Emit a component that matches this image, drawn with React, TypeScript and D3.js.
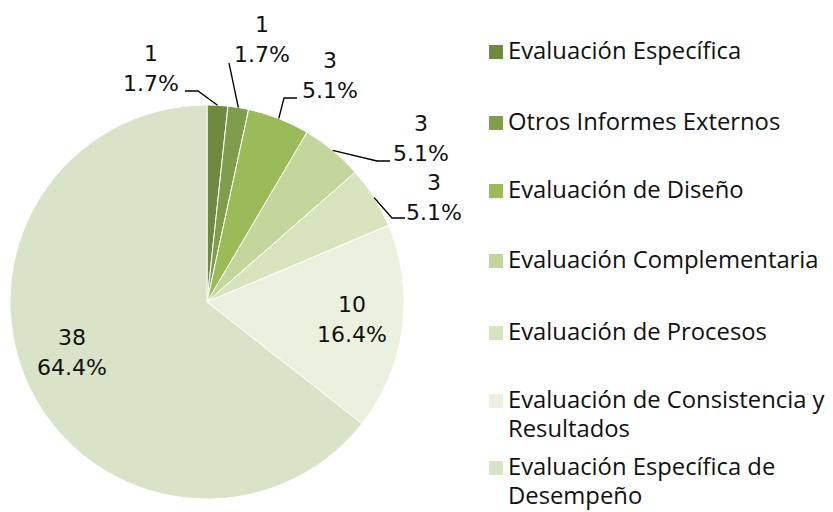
import React from "react";
import * as d3 from "d3";

const categories = [
  "Evaluación Específica",
  "Otros Informes Externos",
  "Evaluación de Diseño",
  "Evaluación Complementaria",
  "Evaluación de Procesos",
  "Evaluación de Consistencia y Resultados",
  "Evaluación Específica de Desempeño",
];
const values = [1, 1, 3, 3, 3, 10, 38];
const percentLabels = ["1.7%", "1.7%", "5.1%", "5.1%", "5.1%", "16.4%", "64.4%"];
const colors = ["#6f8a3e", "#7f9d4b", "#9bbb59", "#c3d69b", "#d7e4bd", "#ebf1de", "#d8e3c7"];

// legend text lines (wrapped as in the original)
const legendLines = [
  ["Evaluación Específica"],
  ["Otros Informes Externos"],
  ["Evaluación de Diseño"],
  ["Evaluación Complementaria"],
  ["Evaluación de Procesos"],
  ["Evaluación de Consistencia y", "Resultados"],
  ["Evaluación Específica de", "Desempeño"],
];
const legendBaselines = [59, 130, 198, 268, 340, 408, 475];

// label layout: text centre x, first baseline y, leader path elbow (null = inside)
const labelLayout: { x: number; y: number; elbow: [number, number][] | null }[] = [
  { x: 151, y: 61, elbow: [[198, 91], [185, 91]] },
  { x: 262, y: 32, elbow: [[229, 63]] },
  { x: 330, y: 68, elbow: [[284, 98], [297, 98]] },
  { x: 421, y: 131, elbow: [[377, 161], [390, 161]] },
  { x: 434, y: 190, elbow: [[392, 218], [405, 218]] },
  { x: 352, y: 312, elbow: null },
  { x: 72, y: 345, elbow: null },
];

export default function App() {
  const width = 833;
  const height = 512;
  const cx = 207;
  const cy = 302;
  const r = 197;

  const pie = d3
    .pie<number>()
    .sort(null)
    .value((d) => d)
    .startAngle(0)
    .endAngle(2 * Math.PI);
  const arcs = pie(values);
  const arcGen = d3.arc<d3.PieArcDatum<number>>().innerRadius(0).outerRadius(r);

  const labelFont = "'DejaVu Sans', sans-serif";
  const legendFont = "'Open Sans', sans-serif";

  return (
    <svg
      width={width}
      height={height}
      style={{ position: "absolute", left: 0, top: 0, background: "#fff" }}
    >
      <g transform={`translate(${cx},${cy})`}>
        {arcs.map((a, i) => (
          <path key={i} d={arcGen(a) || ""} fill={colors[i]} stroke="#fff" strokeWidth={1} />
        ))}
      </g>
      {arcs.map((a, i) => {
        const lay = labelLayout[i];
        const mid = (a.startAngle + a.endAngle) / 2;
        const sx = cx + r * Math.sin(mid);
        const sy = cy - r * Math.cos(mid);
        const pts: [number, number][] = lay.elbow ? [[sx, sy], ...lay.elbow] : [];
        return (
          <g key={i}>
            {lay.elbow && (
              <path
                d={d3.line()(pts) || ""}
                fill="none"
                stroke="#000"
                strokeWidth={1.3}
              />
            )}
            <text
              x={lay.x}
              y={lay.y}
              textAnchor="middle"
              fontFamily={labelFont}
              fontSize={22}
              fill="#111"
            >
              {values[i]}
            </text>
            <text
              x={lay.x}
              y={lay.y + 30}
              textAnchor="middle"
              fontFamily={labelFont}
              fontSize={22}
              fill="#111"
            >
              {percentLabels[i]}
            </text>
          </g>
        );
      })}
      {categories.map((c, i) => (
        <g key={c}>
          <rect x={489} y={legendBaselines[i] - 14} width={14} height={14} fill={colors[i]} />
          {legendLines[i].map((ln, j) => (
            <text
              key={j}
              x={508}
              y={legendBaselines[i] + j * 29}
              fontFamily={legendFont}
              fontSize={23.8}
              fill="#111"
            >
              {ln}
            </text>
          ))}
        </g>
      ))}
    </svg>
  );
}
